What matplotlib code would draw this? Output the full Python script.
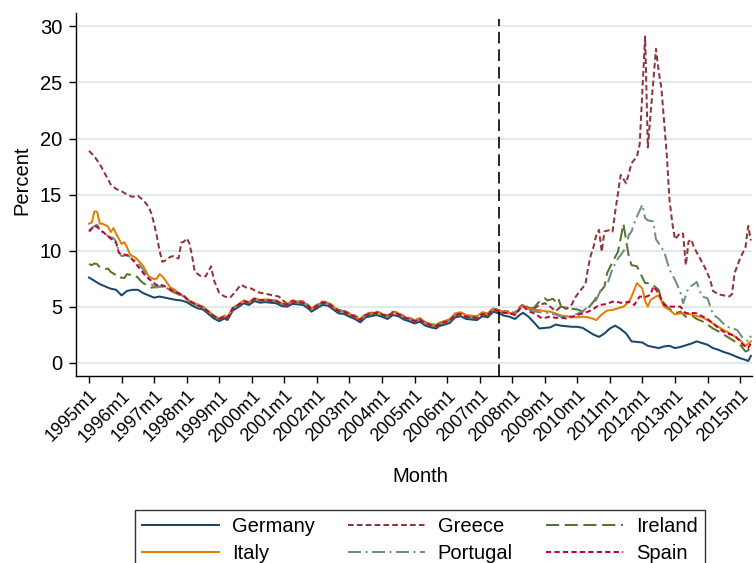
import matplotlib
matplotlib.use("Agg")
import matplotlib.pyplot as plt

# ---------------- data (month index: 0 = 1995m1) ----------------
COUNTRIES = ["Germany", "Greece", "Ireland", "Italy", "Portugal", "Spain"]

MID_MONTHS = [42, 44, 46, 48, 50, 51, 53, 55, 57, 59, 61, 63, 65, 67, 69, 71, 73, 75, 77, 79,
              81, 82, 84, 86, 88, 90, 92, 94, 96, 98, 100, 102, 104, 106, 108, 110, 112, 114, 116, 118,
              120, 122, 124, 126, 128, 129, 131, 133, 135, 137, 139, 141, 143, 145, 147, 149, 151]

# Germany
GER_M = [0, 2, 4, 6, 8, 10, 12, 14, 16, 18, 20, 22, 24, 26, 28, 30, 32, 34, 36, 38, 40] + MID_MONTHS + \
        [153, 155, 157, 159, 160, 162, 164, 166, 168, 170, 172, 174, 176, 178, 180, 182, 184, 186, 188, 190,
         192, 194, 196, 198, 200, 202, 204, 206, 208, 210, 212, 214, 216, 218, 220, 222, 224, 226, 228, 230,
         232, 234, 236, 238, 240, 242, 243, 244]
GER_V = [7.6, 7.3, 7.0, 6.8, 6.6, 6.5, 6.0, 6.4, 6.5, 6.5, 6.2, 6.0, 5.8, 5.9, 5.8, 5.7, 5.6, 5.55, 5.4, 5.1, 4.85,
         4.75, 4.35, 3.95, 3.7, 3.95, 3.8, 4.65, 4.95, 5.3, 5.15, 5.5, 5.35, 5.4, 5.35, 5.3, 5.05, 5.0, 5.25, 5.2, 5.15,
         4.8, 4.55, 4.85, 5.15, 5.1, 4.75, 4.4, 4.35, 4.1, 3.9, 3.6, 4.05, 4.15, 4.25, 4.1, 3.9, 4.25, 4.15, 3.85, 3.7,
         3.5, 3.65, 3.3, 3.15, 3.05, 3.25, 3.4, 3.55, 4.05, 4.15, 3.9, 3.85, 3.8, 4.15, 4.05, 4.55, 4.4,
         4.2, 4.1, 3.9, 4.3, 4.45, 4.1, 3.6, 3.05, 3.1, 3.15, 3.4, 3.3, 3.25, 3.2, 3.2, 3.1, 2.8, 2.5, 2.3, 2.6,
         3.05, 3.3, 3.0, 2.6, 1.9, 1.85, 1.8, 1.5, 1.4, 1.3, 1.45, 1.5, 1.3, 1.4, 1.55, 1.7, 1.9, 1.75, 1.6, 1.3,
         1.15, 0.95, 0.8, 0.6, 0.4, 0.25, 0.15, 0.6]

# Greece
GRC_M = [0, 2, 4, 6, 8, 10, 12, 14, 16, 18, 20, 22, 23, 24, 25, 26, 27, 28, 30, 31,
         32, 33, 34, 35, 36, 37, 38, 39, 41, 43, 45, 46, 48, 50, 52, 54, 56, 58, 60, 62,
         64, 66, 68, 70, 72,
         73, 75, 77, 79, 81, 82, 84, 86, 88, 90, 92, 94, 96, 98, 100, 102, 104, 106, 108, 110,
         112, 114, 116, 118, 120, 122, 124, 126, 128, 129, 131, 133, 135, 137, 139, 141, 143, 145, 147, 149, 151,
         153, 155, 157, 159, 160, 162, 164, 166, 168, 170, 172, 174, 176, 178, 179, 181, 183, 184, 185, 186,
         187, 188, 189, 190, 192, 193, 194, 196, 198, 200, 202, 203, 205, 206, 209, 210, 211, 212, 213, 214,
         215, 216, 217, 218, 219, 220, 221, 222, 223, 225, 227, 229, 230, 232, 234, 236, 237, 238, 240, 241,
         242, 243, 244]
GRC_V = [18.9, 18.4, 17.7, 16.8, 15.9, 15.5, 15.3, 15.0, 14.8, 14.9, 14.5, 13.9, 13.3, 12.4, 11.3, 10.0, 9.0, 9.1, 9.45, 9.5,
         9.35, 9.3, 10.7, 10.8, 11.1, 10.65, 9.5, 8.1, 7.75, 7.7, 8.6, 7.4, 6.2, 5.9, 5.8, 6.35, 6.95, 6.7, 6.6, 6.3,
         6.2, 6.1, 6.0, 5.9, 5.45,
         5.3, 5.55, 5.5, 5.45, 5.1, 4.85, 5.15, 5.45, 5.4, 5.05, 4.7, 4.65, 4.4, 4.2, 3.9, 4.35, 4.45, 4.55, 4.4, 4.2,
         4.55, 4.45, 4.15, 4.0, 3.8, 3.95, 3.6, 3.45, 3.35, 3.55, 3.7, 3.85, 4.35, 4.45, 4.2, 4.15, 4.1, 4.45, 4.35, 4.85, 4.7,
         4.6, 4.55, 4.45, 5.0, 5.2, 4.9, 4.8, 5.15, 5.3, 5.0, 4.6, 5.0, 4.8, 5.2, 5.75, 6.4, 7.0, 8.5, 9.6, 10.35,
         11.4, 11.85, 9.9, 11.7, 11.85, 11.7, 13.5, 16.75, 16.0, 17.8, 18.4, 19.5, 29.1, 19.2, 28.0, 26.0, 24.5, 21.5, 18.5, 14.5,
         12.5, 11.0, 11.3, 11.6, 11.5, 8.7, 10.8, 11.0, 10.3, 9.4, 8.5, 7.4, 6.4, 6.1, 6.0, 5.9, 6.1, 8.0, 9.3, 9.8,
         10.3, 12.2, 10.9]

# Ireland
IRL_M = [0, 1, 2, 3, 4, 6, 7, 8, 10, 11, 12, 13, 14, 15, 16, 17, 18, 19, 20, 21,
         23, 25, 27, 29, 31, 33, 35, 37, 39, 40] + MID_MONTHS + \
        [153, 155, 157, 159, 160, 162, 164, 166, 168, 169, 171, 172, 173, 174, 176, 178, 180, 182, 184, 186,
         188, 190, 191, 193, 195, 196, 197, 199, 200, 202, 203, 205, 207, 209, 210, 211, 213, 215, 216, 218,
         220, 222, 224, 226, 228, 230, 232, 234, 236, 238, 240, 242, 243, 244]
IRL_V = [8.8, 8.7, 8.85, 8.8, 8.5, 8.35, 8.4, 8.1, 7.8, 7.55, 7.6, 7.55, 7.9, 7.85, 7.7, 7.75, 7.6, 7.3, 7.1, 6.95,
         6.7, 6.75, 6.8, 6.6, 6.3, 6.1, 5.85, 5.45, 5.2, 5.05,
         4.9, 4.5, 4.1, 3.85, 4.1, 3.95, 4.8, 5.1, 5.45, 5.3, 5.65, 5.5, 5.55, 5.5, 5.45, 5.2, 5.15, 5.4, 5.35, 5.3,
         4.95, 4.7, 5.0, 5.3, 5.25, 4.9, 4.55, 4.5, 4.25, 4.05, 3.75, 4.2, 4.3, 4.4, 4.25, 4.05, 4.4, 4.3, 4.0, 3.85,
         3.65, 3.8, 3.45, 3.3, 3.2, 3.4, 3.55, 3.7, 4.2, 4.3, 4.05, 4.0, 3.95, 4.3, 4.2, 4.7, 4.55,
         4.45, 4.45, 4.35, 4.9, 5.1, 4.8, 4.9, 5.45, 5.75, 5.55, 5.7, 5.45, 5.75, 5.0, 4.9, 4.8, 4.75, 4.55, 4.85, 5.45,
         6.2, 6.8, 8.0, 9.0, 9.9, 11.1, 12.4, 9.45, 8.7, 8.6, 8.1, 7.1, 7.1, 6.7, 6.5, 5.6, 5.0, 4.6, 4.4, 4.55,
         4.1, 4.25, 3.9, 3.7, 3.4, 3.05, 2.8, 2.5, 2.2, 1.9, 1.6, 1.0, 1.1, 1.45]

# Italy
ITA_M = [0, 1, 2, 3, 4, 5, 7, 8, 9, 10, 12, 13, 14, 15, 16, 17, 19, 20, 22, 24,
         25, 26, 27, 28, 30, 31, 32, 34, 36, 38, 40] + MID_MONTHS + \
        [153, 155, 157, 159, 160, 162, 164, 166, 168, 170, 172, 174, 176, 178, 180, 182, 184, 186, 187, 189,
         191, 193, 195, 197, 199, 200, 202, 204, 205, 206, 207, 209, 210, 212, 214, 216, 218, 220, 222, 224,
         226, 228, 230, 232, 234, 236, 238, 240, 242, 244]
ITA_V = [12.4, 12.5, 13.5, 13.45, 12.4, 12.4, 12.15, 11.65, 12.0, 11.5, 10.6, 10.75, 10.3, 9.7, 9.5, 9.4, 8.9, 8.6, 7.7, 7.45,
         7.5, 7.9, 7.7, 7.4, 6.7, 6.6, 6.4, 6.05, 5.7, 5.4, 5.2,
         5.0, 4.6, 4.2, 3.95, 4.2, 4.05, 4.9, 5.2, 5.55, 5.4, 5.75, 5.6, 5.65, 5.6, 5.55, 5.3, 5.25, 5.5, 5.45, 5.4,
         5.05, 4.8, 5.1, 5.4, 5.35, 5.0, 4.65, 4.6, 4.35, 4.15, 3.85, 4.3, 4.4, 4.5, 4.35, 4.15, 4.5, 4.4, 4.1, 3.95,
         3.8, 3.95, 3.6, 3.45, 3.35, 3.55, 3.7, 3.9, 4.4, 4.5, 4.25, 4.2, 4.15, 4.5, 4.4, 4.85, 4.65,
         4.55, 4.45, 4.35, 4.9, 5.1, 4.8, 4.7, 4.7, 4.6, 4.55, 4.4, 4.2, 4.15, 4.05, 4.05, 4.1, 4.05, 3.9, 3.8, 4.3,
         4.65, 4.7, 4.85, 5.0, 5.4, 5.9, 7.1, 6.6, 5.5, 5.0, 5.6, 5.9, 6.0, 5.0, 4.7, 4.3, 4.4, 4.4, 4.3, 4.15,
         4.05, 3.8, 3.5, 3.2, 2.9, 2.65, 2.35, 2.0, 1.5, 1.9]

# Portugal
PRT_M = [0, 2, 3, 5, 7, 9, 10, 11, 12, 14, 16, 18, 20, 22, 23, 25, 27, 29, 31, 33,
         35, 37, 39, 40] + MID_MONTHS + \
        [153, 155, 157, 159, 160, 162, 164, 166, 168, 170, 172, 174, 176, 178, 180, 182, 184, 186, 187, 189,
         191, 193, 195, 196, 198, 199, 200, 201, 202, 204, 205, 206, 208, 209, 210, 212, 214, 216, 218, 219,
         221, 223, 224, 225, 226, 228, 230, 232, 235, 237, 239, 241, 243, 244]
PRT_V = [11.8, 12.2, 12.3, 11.6, 11.3, 11.1, 10.8, 9.9, 9.5, 9.6, 9.3, 8.9, 8.3, 7.5, 7.0, 6.7, 6.9, 6.6, 6.4, 6.2,
         5.9, 5.5, 5.2, 5.1,
         4.95, 4.55, 4.15, 3.9, 4.15, 4.0, 4.85, 5.15, 5.5, 5.35, 5.7, 5.55, 5.6, 5.55, 5.5, 5.25, 5.2, 5.45, 5.4, 5.35,
         5.0, 4.75, 5.05, 5.35, 5.3, 4.95, 4.6, 4.55, 4.3, 4.1, 3.8, 4.25, 4.35, 4.45, 4.3, 4.1, 4.45, 4.35, 4.05, 3.9,
         3.7, 3.85, 3.5, 3.35, 3.25, 3.45, 3.6, 3.75, 4.25, 4.35, 4.1, 4.05, 4.0, 4.35, 4.25, 4.75, 4.6,
         4.45, 4.4, 4.3, 4.85, 5.05, 4.75, 4.6, 4.5, 4.5, 4.4, 4.3, 4.1, 4.05, 4.2, 4.35, 4.6, 5.0, 5.3, 5.6, 6.65,
         6.95, 8.4, 9.3, 9.6, 10.3, 11.4, 11.7, 12.45, 13.05, 14.1, 12.9, 12.7, 12.6, 11.0, 10.65, 9.9, 8.3, 7.4, 6.3, 5.3,
         6.7, 7.0, 7.2, 6.5, 5.9, 5.75, 4.3, 3.95, 3.2, 3.1, 2.9, 2.2, 1.9, 2.4]

# Spain
ESP_M = [0, 2, 3, 5, 7, 9, 10, 11, 12, 14, 15, 16, 18, 20, 21, 23, 25, 26, 28, 31,
         33, 35, 37, 39, 40] + MID_MONTHS + \
        [153, 155, 157, 159, 160, 162, 164, 165, 167, 170, 172, 174, 176, 178, 180, 182, 184, 186, 188, 190,
         192, 193, 195, 197, 199, 201, 203, 205, 207, 208, 210, 212, 214, 216, 218, 220, 222, 224, 226, 228,
         230, 232, 234, 236, 238, 240, 241, 243, 244]
ESP_V = [11.7, 12.2, 12.1, 11.7, 11.25, 10.9, 10.7, 9.8, 9.7, 9.6, 9.4, 9.2, 8.6, 8.0, 7.7, 7.3, 6.9, 7.0, 6.8, 6.4,
         6.2, 5.95, 5.5, 5.25, 5.1,
         4.95, 4.55, 4.15, 3.9, 4.15, 4.0, 4.85, 5.15, 5.5, 5.35, 5.7, 5.55, 5.6, 5.55, 5.5, 5.25, 5.2, 5.45, 5.4, 5.35,
         5.0, 4.75, 5.05, 5.35, 5.3, 4.95, 4.6, 4.55, 4.3, 4.1, 3.8, 4.25, 4.35, 4.45, 4.3, 4.1, 4.45, 4.35, 4.05, 3.9,
         3.7, 3.85, 3.5, 3.35, 3.25, 3.45, 3.6, 3.75, 4.25, 4.35, 4.1, 4.05, 4.0, 4.35, 4.25, 4.75, 4.6,
         4.45, 4.4, 4.25, 4.85, 5.05, 4.6, 4.4, 4.25, 3.95, 4.1, 4.0, 4.0, 3.95, 4.1, 4.25, 4.4, 4.55, 4.8, 5.15, 5.2,
         5.35, 5.45, 5.4, 5.3, 5.45, 5.15, 5.9, 5.85, 6.05, 6.8, 6.2, 5.15, 5.0, 5.0, 5.0, 4.4, 4.45, 4.4, 4.15, 3.9,
         3.5, 3.1, 2.75, 2.55, 2.4, 1.9, 1.6, 1.3, 1.75]

TICK_MONTHS = [0, 12, 24, 36, 48, 60, 72, 84, 96, 108, 120, 132, 144, 156, 168, 180, 192, 204, 216, 228, 240]
TICK_LABELS = ["1995m1", "1996m1", "1997m1", "1998m1", "1999m1", "2000m1", "2001m1", "2002m1", "2003m1",
               "2004m1", "2005m1", "2006m1", "2007m1", "2008m1", "2009m1", "2010m1", "2011m1", "2012m1",
               "2013m1", "2014m1", "2015m1"]
Y_TICKS = [0, 5, 10, 15, 20, 25, 30]
BREAK_MONTH = 151  # 2007m8

# ---------------- styling ----------------
plt.rcParams['font.family'] = ['Liberation Sans', 'DejaVu Sans']
FS = 14.5
FS_X = 13.0

STYLES = {
    "Germany":  dict(color="#1a476f", ls="-"),
    "Greece":   dict(color="#90353b", dashes=(2.8, 1.6)),
    "Ireland":  dict(color="#55752f", dashes=(6.5, 2.8)),
    "Italy":    dict(color="#e37e00", ls="-"),
    "Portugal": dict(color="#6e8e84", dashes=(6.5, 2.2, 1.0, 2.2)),
    "Spain":    dict(color="#c10534", dashes=(2.6, 1.6)),
}
DATA = {
    "Germany": (GER_M, GER_V), "Greece": (GRC_M, GRC_V), "Ireland": (IRL_M, IRL_V),
    "Italy": (ITA_M, ITA_V), "Portugal": (PRT_M, PRT_V), "Spain": (ESP_M, ESP_V),
}

fig = plt.figure(figsize=(7.56, 5.63), dpi=100)
fig.patch.set_facecolor("white")
ax = fig.add_axes([76 / 756, 1 - 376 / 563, (752 - 76) / 756, (376 - 13) / 563])

handles = {}
for c in COUNTRIES:
    m, v = DATA[c]
    (h,) = ax.plot(m, v, lw=1.45, label=c, **STYLES[c])
    handles[c] = h

ax.axvline(BREAK_MONTH, ymin=0, ymax=0.983, color="black", lw=1.2, dashes=(7, 3.5))

ax.set_xlim(-4.8, 244.4)
ax.set_ylim(-1.19, 31.2)
ax.set_yticks(Y_TICKS)
ax.set_yticklabels([str(t) for t in Y_TICKS], fontsize=FS)
ax.set_xticks(TICK_MONTHS)
ax.set_xticklabels(TICK_LABELS, fontsize=FS_X, rotation=45, ha="right", va="top", rotation_mode="anchor")
ax.tick_params(axis="both", direction="out", length=5, width=1, color="black")
ax.tick_params(axis="y", pad=5)
ax.tick_params(axis="x", pad=3)

ax.yaxis.grid(True, color="#dce8ec", lw=1.3)
ax.set_axisbelow(True)
for s in ["top", "right"]:
    ax.spines[s].set_visible(False)
ax.spines["left"].set_linewidth(1)
ax.spines["bottom"].set_linewidth(1)

fig.text(22 / 756, 1 - 180 / 563, "Percent", fontsize=FS, ha="center", va="center", rotation=90)
fig.text(420 / 756, 1 - 476 / 563, "Month", fontsize=FS, ha="center", va="center")

order = ["Germany", "Italy", "Greece", "Portugal", "Ireland", "Spain"]
leg = fig.legend([handles[c] for c in order], order, ncol=3, loc="upper center",
                 bbox_to_anchor=(420 / 756, 1 - 500 / 563), fontsize=FS, frameon=True,
                 fancybox=False, edgecolor="black", handlelength=3.8, handletextpad=0.65,
                 columnspacing=1.65, labelspacing=0.4, borderpad=0.35)
leg.get_frame().set_linewidth(1.0)

fig.savefig("out.png", dpi=100, facecolor="white")
